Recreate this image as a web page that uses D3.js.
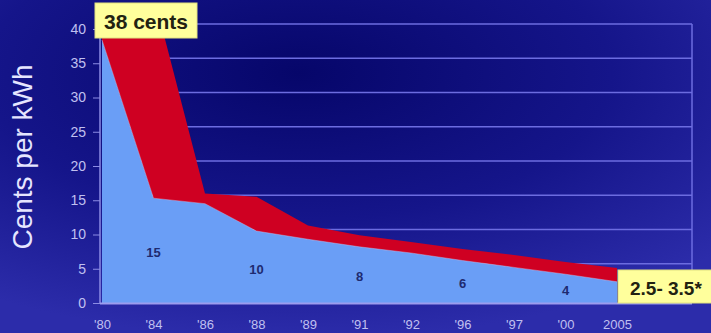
<!DOCTYPE html>
<html>
<head>
<meta charset="utf-8">
<script src="https://cdn.jsdelivr.net/npm/d3@7"></script>
<style>
  html, body { margin: 0; padding: 0; background: #10107a; }
  svg { display: block; font-family: "Liberation Sans", Arial, sans-serif; }
</style>
</head>
<body>
<svg width="711" height="333"></svg>
<script>
// cost of wind power, cents per kWh (low and high end of the range)
let years    = ["'80", "'84", "'86", "'88", "'89", "'91", "'92", "'96", "'97", "'00", "2005"];
let lowCost  = [38.4, 15.3, 14.5, 10.5, 9.3, 8.2, 7.3, 6.2, 5.2, 4.2, 3.1];
let highCost = [39, 45, 16, 15.5, 11.3, 9.9, 8.9, 7.9, 7.0, 6.0, 5.1];
let yTicks   = [0, 5, 10, 15, 20, 25, 30, 35, 40];

// numbers written inside the blue area
let labelYears  = ["'84", "'88", "'91", "'96", "'00"];
let labelValues = [15, 10, 8, 6, 4];

var svg = d3.select("svg"),
    width = +svg.attr("width"),
    height = +svg.attr("height");

var x = d3.scalePoint()
    .domain(years)
    .range([102, 617]);

var y = d3.scaleLinear()
    .domain([0, 40])
    .range([303, 29]);

var depth = 5,   // back wall sits a little higher
    wallRight = 692;

// background
var defs = svg.append("defs");
var bg = defs.append("radialGradient")
    .attr("id", "bg")
    .attr("cx", "42%").attr("cy", "22%").attr("r", "80%");
bg.append("stop").attr("offset", "0%").attr("stop-color", "#06066a");
bg.append("stop").attr("offset", "55%").attr("stop-color", "#15158a");
bg.append("stop").attr("offset", "100%").attr("stop-color", "#2c2caa");

defs.append("clipPath")
    .attr("id", "plotClip")
    .append("rect")
    .attr("x", 100).attr("y", y(40))
    .attr("width", wallRight - 100).attr("height", y(0) - y(40));

svg.append("rect")
    .attr("width", width).attr("height", height)
    .attr("fill", "url(#bg)");

// back wall grid
svg.append("g")
    .attr("class", "grid")
    .selectAll("line")
    .data(yTicks.filter(d => d > 0))
    .enter().append("line")
    .attr("x1", 104).attr("x2", wallRight)
    .attr("y1", d => y(d) - depth).attr("y2", d => y(d) - depth)
    .attr("stroke", "#6c6ce0")
    .attr("stroke-width", 1.5);

svg.append("line")
    .attr("x1", wallRight).attr("x2", wallRight)
    .attr("y1", y(40) - depth).attr("y2", y(0) - depth)
    .attr("stroke", "#6c6ce0")
    .attr("stroke-width", 1.5);

var rows = years.map((d, i) => ({year: d, low: lowCost[i], high: highCost[i]}));

var plot = svg.append("g").attr("clip-path", "url(#plotClip)");

// red band: low -> high
plot.append("path")
    .datum(rows)
    .attr("fill", "#cf0022")
    .attr("d", d3.area()
        .x(d => x(d.year))
        .y0(d => y(d.low))
        .y1(d => y(d.high)));

// blue: 0 -> low
plot.append("path")
    .datum(rows)
    .attr("fill", "#6a9ef6")
    .attr("d", d3.area()
        .x(d => x(d.year))
        .y0(y(0))
        .y1(d => y(d.low)));

plot.append("path")
    .datum(rows)
    .attr("fill", "none")
    .attr("stroke", "#f2b6c8")
    .attr("stroke-opacity", 0.45)
    .attr("stroke-width", 1)
    .attr("d", d3.line()
        .x(d => x(d.year))
        .y(d => y(d.low)));

// value labels in the blue area
svg.append("g")
    .selectAll("text")
    .data(labelYears)
    .enter().append("text")
    .attr("x", d => x(d))
    .attr("y", (d, i) => y(labelValues[i] / 2) + 1)
    .attr("text-anchor", "middle")
    .attr("dominant-baseline", "central")
    .attr("font-size", 13)
    .attr("font-weight", "bold")
    .attr("fill", "#1e2a70")
    .text((d, i) => labelValues[i]);

// axes
svg.append("line")
    .attr("x1", 100).attr("x2", 100)
    .attr("y1", y(40) - depth).attr("y2", y(0))
    .attr("stroke", "#8c8ce4")
    .attr("stroke-width", 1.5);

svg.append("line")
    .attr("x1", 100).attr("x2", wallRight)
    .attr("y1", y(0) + 0.5).attr("y2", y(0) + 0.5)
    .attr("stroke", "#9c9cee")
    .attr("stroke-width", 2);

var yAxis = svg.append("g")
    .attr("transform", "translate(100,0)")
    .call(d3.axisLeft(y).tickValues(yTicks).tickSize(7).tickPadding(7));
yAxis.select(".domain").remove();
yAxis.selectAll("line").attr("stroke", "#8c8ce4");
yAxis.selectAll("text")
    .attr("fill", "#c0c0f0")
    .attr("font-size", 14)
    .attr("font-family", "Liberation Sans, Arial, sans-serif");

var xAxis = svg.append("g")
    .attr("transform", "translate(0," + (y(0) + 11) + ")")
    .call(d3.axisBottom(x).tickSize(0).tickPadding(6));
xAxis.select(".domain").remove();
xAxis.selectAll("text")
    .attr("fill", "#c0c0f0")
    .attr("font-size", 13)
    .attr("font-family", "Liberation Sans, Arial, sans-serif");

// y title
svg.append("text")
    .attr("transform", "translate(32,157) rotate(-90)")
    .attr("text-anchor", "middle")
    .attr("font-size", 28)
    .attr("fill", "#e6e6ff")
    .text("Cents per kWh");

// callout boxes
svg.append("rect")
    .attr("x", 95).attr("y", 3)
    .attr("width", 102).attr("height", 35)
    .attr("fill", "#ffff9c")
    .attr("stroke", "#e0e080");
svg.append("text")
    .attr("x", 146).attr("y", 29)
    .attr("text-anchor", "middle")
    .attr("font-size", 21)
    .attr("font-weight", "bold")
    .attr("fill", "#222211")
    .text("38 cents");

svg.append("rect")
    .attr("x", 618).attr("y", 270)
    .attr("width", 100).attr("height", 33)
    .attr("fill", "#ffff9c")
    .attr("stroke", "#e0e080");
svg.append("text")
    .attr("x", 630).attr("y", 295)
    .attr("font-size", 19)
    .attr("font-weight", "bold")
    .attr("fill", "#222211")
    .text("2.5- 3.5*");
</script>
</body>
</html>
